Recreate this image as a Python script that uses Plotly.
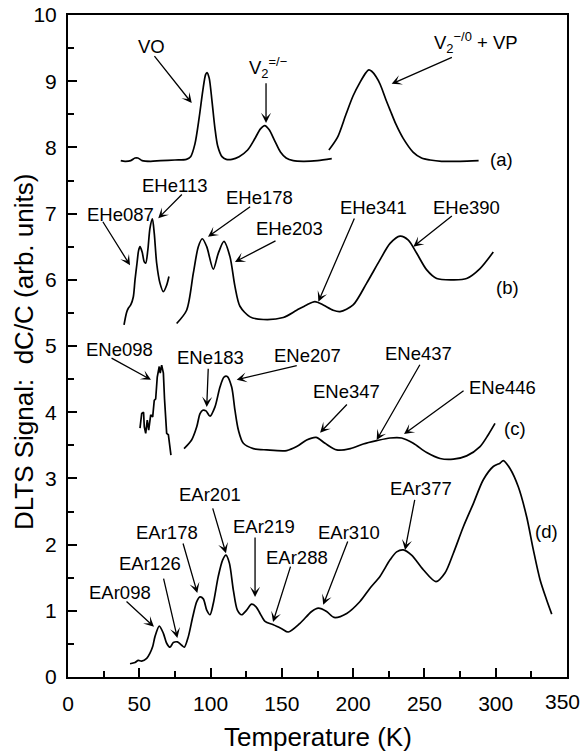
import plotly.graph_objects as go

# ---------------- data (T in K, signal in arb. units) ----------------
a1_T = [37, 40, 44, 47, 49, 52, 58, 65, 75, 83, 86, 89, 92, 94.5, 96.5, 97.5, 99, 101, 103, 105, 108, 111, 115, 120, 126, 131, 135, 138, 141, 145, 149, 153, 158, 165, 175, 185]
a1_S = [7.80, 7.79, 7.80, 7.84, 7.84, 7.80, 7.79, 7.80, 7.81, 7.82, 7.86, 8.05, 8.45, 8.85, 9.10, 9.13, 9.05, 8.70, 8.30, 8.02, 7.86, 7.82, 7.82, 7.86, 7.96, 8.13, 8.28, 8.33, 8.27, 8.10, 7.93, 7.84, 7.80, 7.79, 7.80, 7.83]
a2_T = [183, 189, 195, 200, 205, 209, 211, 213, 216, 219, 223, 226, 230, 235, 242, 248, 254, 262, 275, 288]
a2_S = [7.96, 8.15, 8.50, 8.78, 8.99, 9.13, 9.17, 9.15, 9.07, 8.95, 8.72, 8.56, 8.35, 8.14, 7.93, 7.84, 7.81, 7.79, 7.79, 7.80]

b1_T = [39.3, 41, 42.3, 44, 45.8, 47, 48.4, 49.5, 50.5, 52, 53.5, 54.5, 56, 57.5, 59.2, 60.5, 62.2, 64.5, 66.9, 69.2, 70.8]
b1_S = [5.32, 5.50, 5.57, 5.62, 5.74, 6.00, 6.25, 6.44, 6.50, 6.42, 6.27, 6.25, 6.45, 6.78, 6.92, 6.70, 6.25, 5.95, 5.82, 5.92, 6.05]
b2_T = [76.2, 83.2, 87.9, 91.4, 94.2, 97.3, 101.9, 105.4, 109.4, 113.6, 117.1, 120.6, 127.7, 137, 151, 160.4, 167.4, 173.2, 179, 186, 190.8, 200, 209.5, 218.8, 225.9, 232.9, 238.7, 244.6, 251.6, 258.6, 270.3, 279.6, 289, 298.3]
b2_S = [5.34, 5.54, 6.10, 6.50, 6.62, 6.50, 6.16, 6.40, 6.58, 6.35, 5.90, 5.60, 5.44, 5.40, 5.43, 5.54, 5.62, 5.67, 5.62, 5.54, 5.52, 5.62, 5.95, 6.30, 6.55, 6.66, 6.60, 6.40, 6.15, 6.02, 6.00, 6.02, 6.17, 6.42]

c1_T = [50.5, 51.7, 53, 53.5, 54.5, 55.6, 56.6, 58, 59.4, 60.5, 61.5, 62.6, 64, 64.7, 65.7, 66.9, 67.7, 69.2, 70.4, 71.5, 72.2]
c1_S = [3.76, 3.98, 4.00, 3.78, 3.68, 3.88, 3.73, 3.96, 3.93, 4.18, 4.20, 4.53, 4.69, 4.59, 4.71, 4.59, 4.20, 3.68, 3.66, 3.48, 3.35]
c2_T = [81.4, 86.7, 90.3, 92.6, 94.5, 96.8, 99.6, 103.1, 106.6, 109.4, 111.7, 114.8, 117.1, 119.5, 123, 130, 139.4, 153.4, 160.4, 167.4, 174, 180.3, 188.5, 198, 207.1, 216.5, 225.9, 234, 242.2, 251.6, 261, 270.3, 279.6, 289, 294.8, 299.5]
c2_S = [3.45, 3.58, 3.78, 3.98, 4.03, 4.02, 3.94, 4.08, 4.38, 4.53, 4.54, 4.38, 4.03, 3.73, 3.53, 3.45, 3.43, 3.42, 3.48, 3.58, 3.62, 3.53, 3.43, 3.45, 3.52, 3.57, 3.61, 3.61, 3.53, 3.39, 3.30, 3.29, 3.34, 3.48, 3.66, 3.83]

d_T = [43.5, 47, 49.3, 51.6, 55.2, 57.5, 59.4, 61, 64, 66.9, 69.2, 71.5, 73.9, 76.7, 79.7, 81.6, 84.4, 87.5, 90.3, 92.6, 94.9, 97.3, 99.6, 101.9, 105.4, 108.5, 110.8, 113.2, 116, 118.8, 121.8, 125.3, 128.8, 131.9, 134.7, 138.2, 144, 149.9, 154.5, 162.7, 170.9, 175.6, 181.4, 186.6, 195.5, 204.8, 211.8, 218.8, 225.9, 230.5, 235.2, 241, 249.2, 258.1, 264.4, 270.3, 277.3, 284.3, 291.3, 298.3, 303, 305.3, 310, 315.9, 321.7, 326.4, 331.1, 335.8, 339.3]
d_S = [0.20, 0.22, 0.25, 0.24, 0.28, 0.36, 0.46, 0.61, 0.77, 0.66, 0.51, 0.45, 0.52, 0.53, 0.48, 0.45, 0.61, 0.91, 1.14, 1.21, 1.18, 1.01, 0.94, 1.11, 1.52, 1.77, 1.84, 1.72, 1.31, 1.01, 0.94, 1.01, 1.10, 1.06, 0.96, 0.84, 0.79, 0.73, 0.68, 0.81, 0.99, 1.04, 0.99, 0.90, 0.96, 1.14, 1.34, 1.52, 1.77, 1.89, 1.92, 1.84, 1.62, 1.44, 1.57, 1.87, 2.27, 2.62, 2.98, 3.18, 3.23, 3.27, 3.15, 2.87, 2.42, 1.92, 1.47, 1.16, 0.95]

# labels: text, text position (T, S), arrow tail (T, S), arrow tip (T, S)
peak_labels = ["VO", "EHe087", "EHe113", "EHe178", "EHe203", "EHe341", "EHe390",
               "ENe098", "ENe183", "ENe207", "ENe347", "ENe437", "ENe446",
               "EAr098", "EAr126", "EAr178", "EAr201", "EAr219", "EAr288", "EAr310", "EAr377"]
label_T = [58.7, 36.5, 75, 134.3, 155.7, 214.6, 279.5,
           36.1, 99.6, 168, 195, 245.8, 304.8,
           36.8, 57.5, 69.4, 99.8, 137.7, 160.3, 197.1, 247.6]
label_S = [9.52, 6.99, 7.43, 7.24, 6.78, 7.09, 7.09,
           4.94, 4.83, 4.86, 4.31, 4.88, 4.38,
           1.28, 1.72, 2.19, 2.76, 2.28, 1.81, 2.19, 2.85]
tail_T = [59.8, 23.8, 80.9, 128.8, 146.6, 201.3, 270.3,
          29.5, 98.4, 161.5, 196.6, 247.4, 278.5,
          40, 66.8, 80.4, 101.2, 131.2, 156.4, 196.6, 243.4]
tail_S = [9.40, 6.90, 7.31, 7.12, 6.60, 6.95, 6.98,
          4.83, 4.68, 4.71, 4.14, 4.74, 4.34,
          1.16, 1.51, 2.04, 2.57, 2.13, 1.69, 2.07, 2.70]
tip_T = [86.8, 43.5, 63.3, 98.2, 117.1, 175.6, 242.2,
         58.2, 97.3, 118.3, 176.8, 216.5, 235.7,
         60.3, 76.7, 90.7, 110.8, 131.2, 143.8, 179, 236.4]
tip_S = [8.67, 6.22, 6.93, 6.65, 6.27, 5.67, 6.50,
         4.49, 4.08, 4.49, 3.69, 3.58, 3.67,
         0.76, 0.59, 1.27, 1.87, 1.21, 0.83, 1.09, 1.92]

# V2 labels (left-anchored) with arrows
v_labels = ["V<sub>2</sub><sup>=/\u2212</sup>", "V<sub>2</sub><sup>\u2212/0</sup> + VP"]
v_label_T = [125.6, 255.1]
v_label_S = [9.21, 9.58]
v_tail_T = [138.9, 270.3]
v_tail_S = [8.99, 9.37]
v_tip_T = [138.9, 227]
v_tip_S = [8.37, 8.96]

curve_names = ["(a)", "(b)", "(c)", "(d)"]
curve_name_T = [304.2, 308.6, 313.5, 335.3]
curve_name_S = [7.81, 5.89, 3.75, 2.20]

x_ticks = [0, 50, 100, 150, 200, 250, 300, 350]
x_tick_text = ["0", "50", "100", "150", "200", "250", "300", ""]  # last label drawn separately (kept inside the page)
x_last_label = "350"
y_ticks = [0, 1, 2, 3, 4, 5, 6, 7, 8, 9, 10]

x_title = "Temperature (K)"
y_title = "DLTS Signal:  dC/C (arb. units)"

# ---------------- figure ----------------
FONT = "Liberation Sans, Arial, Helvetica, sans-serif"
LBL = 18.5
fig = go.Figure()

segments = [(a1_T, a1_S, "spline"), (a2_T, a2_S, "spline"),
            (b1_T, b1_S, "spline"), (b2_T, b2_S, "spline"),
            (c1_T, c1_S, "linear"), (c2_T, c2_S, "spline"),
            (d_T, d_S, "spline")]
for T, S, shape in segments:
    fig.add_trace(go.Scatter(x=T, y=S, mode="lines",
                             line=dict(color="black", width=1.7, shape=shape,
                                       smoothing=0.8 if shape == "spline" else None),
                             showlegend=False, hoverinfo="skip"))

annotations = []
for txt, lx, ly in zip(peak_labels, label_T, label_S):
    annotations.append(dict(x=lx, y=ly, xref="x", yref="y", text=txt, showarrow=False,
                            xanchor="center", yanchor="middle",
                            font=dict(family=FONT, size=LBL, color="black")))
for txt, lx, ly in zip(v_labels, v_label_T, v_label_S):
    annotations.append(dict(x=lx, y=ly, xref="x", yref="y", text=txt, showarrow=False,
                            xanchor="left", yanchor="middle",
                            font=dict(family=FONT, size=LBL, color="black")))
for txt, lx, ly in zip(curve_names, curve_name_T, curve_name_S):
    annotations.append(dict(x=lx, y=ly, xref="x", yref="y", text=txt, showarrow=False,
                            xanchor="center", yanchor="middle",
                            font=dict(family=FONT, size=LBL, color="black")))
for x0, y0, x1, y1 in zip(tail_T + v_tail_T, tail_S + v_tail_S, tip_T + v_tip_T, tip_S + v_tip_S):
    annotations.append(dict(x=x1, y=y1, xref="x", yref="y", ax=x0, ay=y0,
                            axref="x", ayref="y", text="", showarrow=True,
                            arrowhead=3, arrowsize=1.3, arrowwidth=1.3,
                            arrowcolor="black", standoff=0, startstandoff=0))

# last x tick label, nudged left so it stays on the page
annotations.append(dict(x=x_ticks[-1], y=-0.0375, xref="x", yref="paper", text=x_last_label,
                        showarrow=False, xanchor="right", yanchor="middle", xshift=15,
                        font=dict(family=FONT, size=21, color="black")))

# axis titles
annotations.append(dict(x=0.5, y=-0.0906, xref="paper", yref="paper", text=x_title,
                        showarrow=False, xanchor="center", yanchor="middle",
                        font=dict(family=FONT, size=26, color="black")))
annotations.append(dict(x=-0.088, y=0.491, xref="paper", yref="paper", text=y_title,
                        showarrow=False, xanchor="center", yanchor="middle", textangle=-90,
                        font=dict(family=FONT, size=26, color="black")))

axis_common = dict(showline=True, linecolor="black", linewidth=2, mirror=True,
                   ticks="inside", tickcolor="black", tickwidth=2, ticklen=9,
                   showgrid=False, zeroline=False, ticklabeloverflow="allow",
                   automargin=False,
                   tickfont=dict(family=FONT, size=21, color="black"))

fig.update_layout(
    width=583, height=755,
    margin=dict(l=68, r=16, t=15, b=78),
    paper_bgcolor="white", plot_bgcolor="white",
    xaxis=dict(range=[0, 350], tickvals=x_ticks, ticktext=x_tick_text, ticklabelstandoff=7,
               minor=dict(ticks="inside", dtick=25, tick0=0, ticklen=6, tickwidth=2, tickcolor="black"),
               **axis_common),
    yaxis=dict(range=[0, 10], tickvals=y_ticks, ticklabelstandoff=5,
               minor=dict(ticks="inside", dtick=0.5, tick0=0, ticklen=6, tickwidth=2, tickcolor="black"),
               **axis_common),
    annotations=annotations,
)

fig.write_html("out.html")
